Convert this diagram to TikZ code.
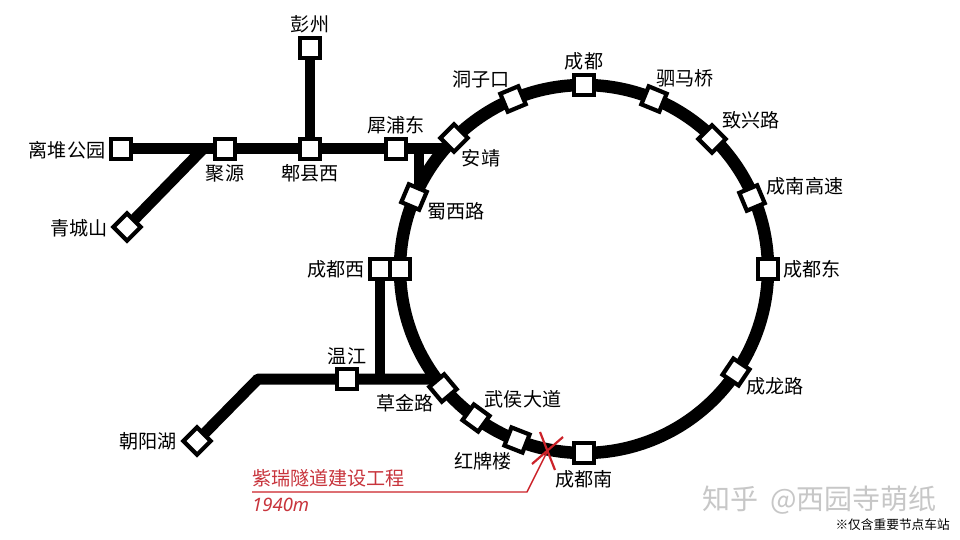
\documentclass[tikz,border=0pt]{standalone}
\usepackage{fontspec}
\setmainfont{Noto Sans CJK SC}
\newfontfamily\latinfont{Noto Sans}
\usetikzlibrary{backgrounds}
\definecolor{redline}{HTML}{CC2229}
\definecolor{redtext}{HTML}{C8343C}
\tikzset{
  st/.style={draw=black,fill=white,line width=4.2pt,minimum size=19.4pt,inner sep=0pt,shape=rectangle},
  lab/.style={inner sep=0pt,text=black,font=\fontsize{19.1}{20}\selectfont},
  trunk/.style={line width=11pt,draw=black},
  spur/.style={line width=9.5pt,draw=black},
  ringline/.style={line width=12.5pt,draw=black},
  redl/.style={draw=redline,line width=1.4pt},
}
\begin{document}
\begin{tikzpicture}[x=1pt,y=-1pt]
\useasboundingbox (0,0) rectangle (960,540);
% stations
\node[st] (lidui) at (121,149) {};
\node[st] (juyuan) at (225,149) {};
\node[st] (pixian) at (310,149) {};
\node[st] (pengzhou) at (310,48) {};
\node[st] (xipu) at (396,149) {};
\node[st,rotate=45] (qingcheng) at (127,227) {};
\node[st,rotate=45] (anjing) at (454,138) {};
\node[st,rotate=-23] (shuxi) at (414,197) {};
\node[st,rotate=22.7] (dongzi) at (513,99) {};
\node[st] (chengdu) at (584,85) {};
\node[st,rotate=-22.4] (sima) at (654,99) {};
\node[st,rotate=45] (zhixing) at (712,139) {};
\node[st,rotate=22.9] (chengnangs) at (752,198) {};
\node[st] (cddong) at (768,269) {};
\node[st,rotate=-34] (chenglong) at (736,372) {};
\node[st] (cdnan) at (584,453) {};
\node[st,rotate=-21.4] (hongpai) at (517,440) {};
\node[st,rotate=-36] (wuhou) at (476,418) {};
\node[st,rotate=40] (caojin) at (443,388) {};
\node[st] (cdxib) at (400,269) {};
\node[st] (cdxia) at (380,269) {};
\node[st] (wenjiang) at (347,379) {};
\node[st,rotate=45] (chaoyang) at (197,441) {};
% free ends
\coordinate (ringc) at (584,269);
\coordinate (qingj) at (203,149);
\coordinate (xipuend) at (446,149);
\coordinate (spurtop) at (419,149);
\coordinate (spurbot) at (419,192);
\coordinate (bend) at (258,379);
\coordinate (caoj) at (436,379);
\coordinate (wenj) at (380,379);
% lines
\begin{scope}[on background layer]
\fill[white] (0,0) rectangle (960,540);
\draw[ringline] (ringc) circle[radius=184];
\draw[trunk] (lidui.center) -- (juyuan.center) -- (pixian.center) -- (xipu.center) -- (xipuend);
\draw[spur] (spurtop) -- (spurbot);
\draw[spur,line width=10.5pt] (pengzhou.center) -- (pixian.center);
\draw[trunk,line cap=butt] (qingj) -- (qingcheng.center);
\draw[trunk,line join=round] (chaoyang.center) -- (bend) -- (wenjiang.center) -- (caoj);
\draw[spur] (cdxia.center) -- (wenj);
\end{scope}
% labels
\node[lab] (l1) at (310,24) {彭州};
\node[lab] (l2) at (67,150) {离堆公园};
\node[lab] (l3) at (225,173) {聚源};
\node[lab] (l4) at (310,173) {郫县西};
\node[lab] (l5) at (396,125) {犀浦东};
\node[lab] (l6) at (79,228) {青城山};
\node[lab] (l7) at (481,158) {安靖};
\node[lab] (l8) at (456,211) {蜀西路};
\node[lab] (l9) at (481,79) {洞子口};
\node[lab] (l10) at (584,61) {成都};
\node[lab] (l11) at (685,78) {驷马桥};
\node[lab] (l12) at (751,120) {致兴路};
\node[lab] (l13) at (805,186) {成南高速};
\node[lab] (l14) at (812,269) {成都东};
\node[lab] (l15) at (775,386) {成龙路};
\node[lab] (l16) at (584,479) {成都南};
\node[lab] (l17) at (523,399) {武侯大道};
\node[lab] (l18) at (483,461) {红牌楼};
\node[lab] (l19) at (405,403) {草金路};
\node[lab] (l20) at (347,356) {温江};
\node[lab] (l21) at (336,269) {成都西};
\node[lab] (l22) at (148,441) {朝阳湖};
% red works
\coordinate (x1a) at (540,432);
\coordinate (x1b) at (555,470);
\coordinate (x2a) at (532,464);
\coordinate (x2b) at (563,437);
\coordinate (ra) at (252,492);
\coordinate (rb) at (527,492);
\coordinate (rc) at (548,450);
\draw[redl,line width=2.2pt] (x1a) -- (x1b);
\draw[redl,line width=2.2pt] (x2a) -- (x2b);
\draw[redl,line join=round] (ra) -- (rb) -- (rc);
\node[anchor=west,inner sep=0pt,text=redtext,font=\fontsize{19.1}{20}\selectfont] (tunnel) at (252,478.5) {紫瑞隧道建设工程};
\node[anchor=west,inner sep=0pt,text=redtext,font=\latinfont\itshape\fontsize{18.5}{19}\selectfont] (length) at (252,505) {1940m};
% watermark and note
\node[anchor=west,inner sep=0pt,text=black!22,font=\fontsize{28}{29}\selectfont] (wm) at (702,500) {知乎\hspace{12pt}@西园寺萌纸};
\node[anchor=east,inner sep=0pt,text=black,font=\fontsize{12.7}{13}\selectfont] (note) at (950,525) {※仅含重要节点车站};
\end{tikzpicture}
\end{document}
